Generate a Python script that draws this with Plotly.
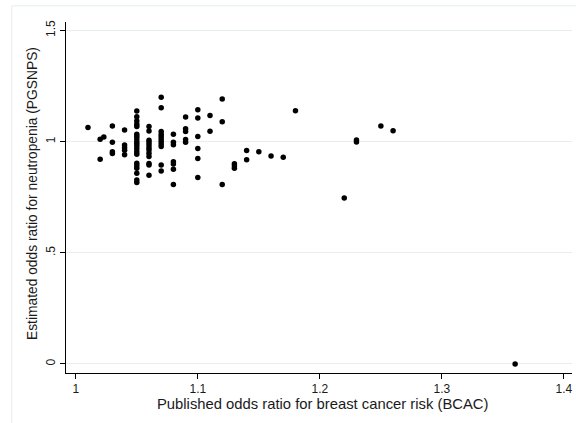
import plotly.graph_objects as go

# Published OR (BCAC) and estimated OR (PGSNPS)
bcac = (
    [1.01]
    + [1.02, 1.023, 1.02]
    + [1.03, 1.03, 1.03, 1.03]
    + [1.04] * 5
    + [1.05] * 20
    + [1.06] * 12
    + [1.07] * 11
    + [1.08] * 7
    + [1.09] * 5
    + [1.10] * 6
    + [1.11] * 2
    + [1.12] * 3
    + [1.13] * 3
    + [1.14] * 2
    + [1.15, 1.16, 1.17, 1.18, 1.22, 1.23, 1.23, 1.25, 1.26, 1.36]
)
pgsnps = (
    [1.063]
    + [1.011, 1.021, 0.921]
    + [1.070, 0.997, 0.955, 0.947]
    + [1.052, 0.985, 0.973, 0.961, 0.941]
    + [1.138, 1.112, 1.093, 1.078, 1.068, 1.033, 1.023, 1.012, 1.000, 0.990,
       0.980, 0.968, 0.955, 0.943, 0.903, 0.892, 0.880, 0.858, 0.828, 0.816]
    + [1.068, 1.048, 1.006, 0.996, 0.985, 0.973, 0.962, 0.948, 0.933, 0.902, 0.895, 0.849]
    + [1.200, 1.152, 1.045, 1.033, 1.023, 1.012, 1.001, 0.989, 0.978, 0.895, 0.868]
    + [1.033, 0.997, 0.986, 0.910, 0.899, 0.876, 0.807]
    + [1.111, 1.058, 1.046, 1.010, 0.997]
    + [1.143, 1.106, 1.023, 0.969, 0.924, 0.839]
    + [1.117, 1.047]
    + [1.192, 1.089, 0.807]
    + [0.900, 0.890, 0.880]
    + [0.960, 0.918]
    + [0.955, 0.935, 0.930, 1.139, 0.746, 1.007, 0.998, 1.070, 1.049, 0.0]
)

x_tickvals = [1, 1.1, 1.2, 1.3, 1.4]
x_ticktext = ["1", "1.1", "1.2", "1.3", "1.4"]
y_tickvals = [0, 0.5, 1, 1.5]
y_ticktext = ["0", ".5", "1", "1.5"]
x_title = "Published odds ratio for breast cancer risk (BCAC)"
y_title = "Estimated odds ratio for neutropenia (PGSNPS)"

fig = go.Figure(
    go.Scatter(
        x=bcac, y=pgsnps, mode="markers",
        marker=dict(color="black", size=5.5, line=dict(width=0)),
        hoverinfo="x+y",
    )
)

font = "Liberation Sans, Arial, sans-serif"
fig.update_layout(
    width=576, height=423,
    margin=dict(l=66, r=4, t=22, b=50),
    paper_bgcolor="white", plot_bgcolor="white",
    showlegend=False,
    font=dict(family=font, color="#1a1a1a", size=12),
    shapes=[dict(type="rect", xref="paper", yref="paper",
                 x0=-0.107, x1=1.2, y0=-0.5, y1=1.046,
                 line=dict(color="#e4ecf0", width=1), layer="below")],
    annotations=[
        dict(text=x_title, xref="paper", yref="paper", x=0.506, y=-0.088,
             xanchor="center", yanchor="middle", showarrow=False,
             font=dict(size=14.8, family=font, color="#1a1a1a")),
        dict(text=y_title, xref="paper", yref="paper", x=-0.0652, y=0.51,
             xanchor="center", yanchor="middle", showarrow=False, textangle=-90,
             font=dict(size=13.8, family=font, color="#1a1a1a")),
    ],
)
fig.update_xaxes(
    range=[0.992, 1.4066], tickvals=x_tickvals, ticktext=x_ticktext,
    showgrid=False, zeroline=False, showline=True, linecolor="black", linewidth=1,
    ticks="outside", ticklen=5, tickcolor="black", tickfont=dict(size=12),
    automargin=False, ticklabeloverflow="allow",
)
fig.update_yaxes(
    range=[-0.0405, 1.538], tickvals=y_tickvals, ticktext=y_ticktext,
    showgrid=True, gridcolor="#e6eef1", gridwidth=1, zeroline=False,
    showline=True, linecolor="black", linewidth=1,
    ticks="outside", ticklen=5, tickcolor="black", tickangle=-90,
    tickfont=dict(size=12), automargin=False,
)

# remove the page's default body margin so the figure fills the window exactly
fig.write_html(
    "out.html",
    config={"displayModeBar": False},
    post_script="document.body.style.margin='0';"
                "document.documentElement.style.overflow='hidden';"
                "document.body.style.overflow='hidden';",
)
